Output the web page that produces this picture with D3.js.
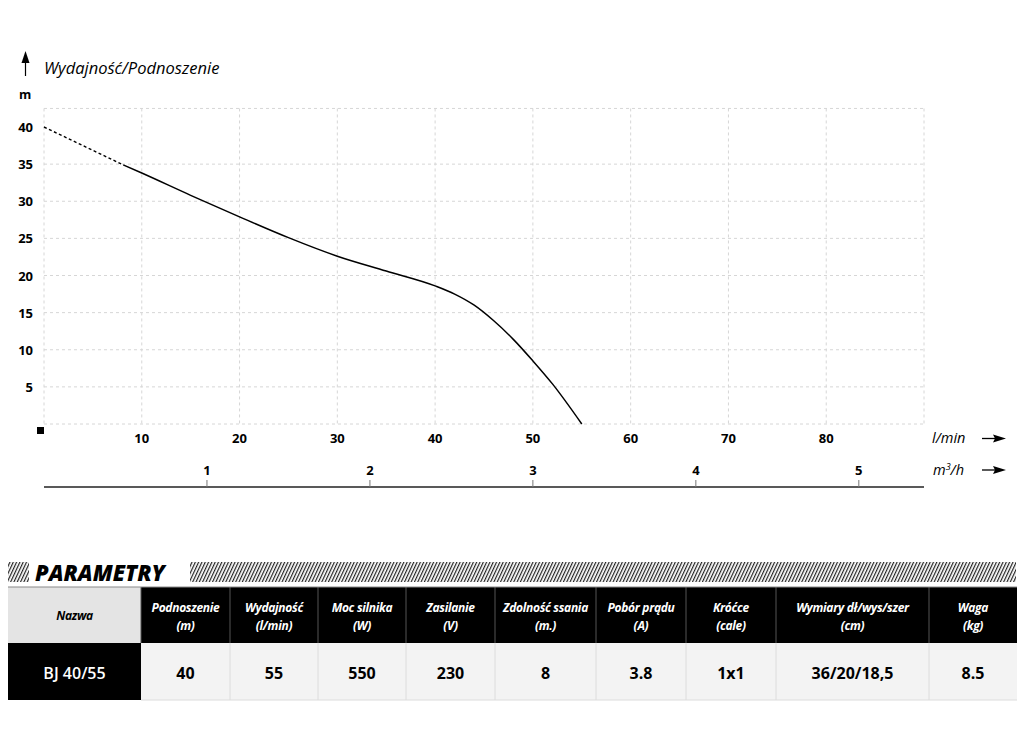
<!DOCTYPE html>
<html><head><meta charset="utf-8">
<script src="https://cdn.jsdelivr.net/npm/d3@7"></script>
<style>
html,body{margin:0;padding:0;background:#fff;}
svg{display:block;font-family:"Open Sans",sans-serif;}
</style></head>
<body><svg id="chart" width="1024" height="754"></svg>
<script>
// ---- data ----
const flowTicks = [10, 20, 30, 40, 50, 60, 70, 80];
const headTicks = [5, 10, 15, 20, 25, 30, 35, 40];
const headGrid = [0, 5, 10, 15, 20, 25, 30, 35, 42.5];
const flowGrid = [0, 10, 20, 30, 40, 50, 60, 70, 80, 90];
const m3Ticks = [1, 2, 3, 4, 5];
const dashedFlow = [0, 8.1];
const dashedHead = [40, 34.9];
const curveFlow = [8.1, 10, 15, 20, 25, 30, 35, 40, 42, 44, 46, 48, 50, 52, 55];
const curveHead = [34.9, 33.8, 30.8, 27.9, 25.1, 22.6, 20.6, 18.6, 17.5, 16.0, 13.9, 11.4, 8.5, 5.4, 0];
const colHeads = ["Nazwa", "Podnoszenie", "Wydajność", "Moc silnika", "Zasilanie", "Zdolność ssania", "Pobór prądu", "Króćce", "Wymiary dł/wys/szer", "Waga"];
const colUnits = ["", "(m)", "(l/min)", "(W)", "(V)", "(m.)", "(A)", "(cale)", "(cm)", "(kg)"];
const rowValues = ["BJ 40/55", "40", "55", "550", "230", "8", "3.8", "1x1", "36/20/18,5", "8.5"];
const colEdges = [8, 141, 230, 318, 406, 495, 596, 686, 776, 929, 1017];

const svg = d3.select("#chart");
const x = d3.scaleLinear().domain([0, 90]).range([44, 924]);
const y = d3.scaleLinear().domain([0, 40]).range([424, 127]);
const xm3 = d3.scaleLinear().domain([0, 5.4]).range([44, 44 + 5.4 * (1000 / 60) * (880 / 90)]);

// grid
const g = svg.append("g");
g.selectAll("line.h").data(headGrid).join("line")
  .attr("x1", x(0)).attr("x2", x(90)).attr("y1", d => y(d)).attr("y2", d => y(d))
  .attr("stroke", "#d6d6d6").attr("stroke-width", 1).attr("stroke-dasharray", "3,3");
g.selectAll("line.v").data(flowGrid).join("line")
  .attr("x1", d => x(d)).attr("x2", d => x(d)).attr("y1", y(42.5)).attr("y2", y(0))
  .attr("stroke", "#d6d6d6").attr("stroke-width", 1).attr("stroke-dasharray", "3,3");

// y labels
svg.selectAll("text.yl").data(headTicks).join("text")
  .attr("x", 33).attr("y", d => y(d) + 5).attr("text-anchor", "end")
  .attr("font-size", 13).attr("font-weight", "bold").text(d => d);
svg.append("text").attr("x", 19).attr("y", 99).attr("font-size", 12.5).attr("font-weight", "bold").text("m");

// title + up arrow
svg.append("line").attr("x1", 25.5).attr("x2", 25.5).attr("y1", 60).attr("y2", 76).attr("stroke", "#000").attr("stroke-width", 1.2);
svg.append("path").attr("d", "M25.5,51 L21.5,63 L29.5,63 Z").attr("fill", "#000");
svg.append("text").attr("x", 44).attr("y", 74).attr("font-size", 16.5).attr("font-style", "italic").text("Wydajność/Podnoszenie");

// origin square
svg.append("rect").attr("x", 37).attr("y", 427).attr("width", 7).attr("height", 7).attr("fill", "#000");

// x labels l/min
svg.selectAll("text.xl").data(flowTicks).join("text")
  .attr("x", d => x(d)).attr("y", 443).attr("text-anchor", "middle")
  .attr("font-size", 13).attr("font-weight", "bold").text(d => d);

// m3/h axis
svg.append("line").attr("x1", 44).attr("x2", 924).attr("y1", 487).attr("y2", 487).attr("stroke", "#222").attr("stroke-width", 1.5);
svg.selectAll("line.mt").data(m3Ticks).join("line")
  .attr("x1", d => xm3(d)).attr("x2", d => xm3(d)).attr("y1", 480).attr("y2", 487)
  .attr("stroke", "#777").attr("stroke-width", 1);
svg.selectAll("text.ml").data(m3Ticks).join("text")
  .attr("x", d => xm3(d)).attr("y", 475).attr("text-anchor", "middle")
  .attr("font-size", 13).attr("font-weight", "bold").text(d => d);

// unit labels + arrows
svg.append("text").attr("x", 932).attr("y", 443).attr("font-size", 14.5).attr("font-style", "italic").text("l/min");
const mh = svg.append("text").attr("x", 933).attr("y", 475).attr("font-size", 14.5).attr("font-style", "italic");
mh.append("tspan").text("m");
mh.append("tspan").attr("font-size", 9).attr("dy", -5).text("3");
mh.append("tspan").attr("dy", 5).text("/h");
[438.5, 470].forEach(yy => {
  svg.append("line").attr("x1", 982).attr("x2", 996).attr("y1", yy).attr("y2", yy).attr("stroke", "#000").attr("stroke-width", 1.3);
  svg.append("path").attr("d", `M1006,${yy} L993,${yy - 4} L995,${yy} L993,${yy + 4} Z`).attr("fill", "#000");
});

// curve
const line = d3.line().x(d => x(d[0])).y(d => y(d[1])).curve(d3.curveMonotoneX);
svg.append("path").datum(dashedFlow.map((f, i) => [f, dashedHead[i]])).attr("d", line)
  .attr("fill", "none").attr("stroke", "#000").attr("stroke-width", 1.4).attr("stroke-dasharray", "3,2.5");
svg.append("path").datum(curveFlow.map((f, i) => [f, curveHead[i]])).attr("d", line)
  .attr("fill", "none").attr("stroke", "#000").attr("stroke-width", 1.5);

// ---- PARAMETRY section ----
const defs = svg.append("defs");
const pat = defs.append("pattern").attr("id", "hatch").attr("patternUnits", "userSpaceOnUse")
  .attr("width", 3).attr("height", 3).attr("patternTransform", "rotate(25)");
pat.append("rect").attr("x", 0).attr("y", 0).attr("width", 1.2).attr("height", 3).attr("fill", "#222");
svg.append("rect").attr("x", 8).attr("y", 562).attr("width", 21).attr("height", 20).attr("fill", "url(#hatch)");
svg.append("rect").attr("x", 190).attr("y", 562).attr("width", 826).attr("height", 20).attr("fill", "url(#hatch)");
svg.append("text").attr("x", 35).attr("y", 581).attr("font-size", 22).attr("font-weight", 800)
  .attr("font-style", "italic").text("PARAMETRY");

// table
const tTop = 587, tMid = 643, tBot = 700;
const cols = colHeads.map((h, i) => ({h, u: colUnits[i], v: rowValues[i], x0: colEdges[i], x1: colEdges[i + 1]}));
const tg = svg.append("g");
tg.selectAll("rect.hd").data(cols).join("rect")
  .attr("x", d => d.x0).attr("y", tTop).attr("width", d => d.x1 - d.x0).attr("height", tMid - tTop)
  .attr("fill", (d, i) => i === 0 ? "#e4e4e4" : "#000");
tg.selectAll("rect.dv").data(cols).join("rect")
  .attr("x", d => d.x0).attr("y", tMid).attr("width", d => d.x1 - d.x0).attr("height", tBot - tMid)
  .attr("fill", (d, i) => i === 0 ? "#000" : "#f3f3f3");
tg.selectAll("line.sh").data(colEdges.slice(1, -1)).join("line")
  .attr("x1", d => d).attr("x2", d => d).attr("y1", tTop).attr("y2", tMid)
  .attr("stroke", "#555").attr("stroke-width", 1);
tg.selectAll("line.sd").data(colEdges.slice(2, -1)).join("line")
  .attr("x1", d => d).attr("x2", d => d).attr("y1", tMid).attr("y2", tBot)
  .attr("stroke", "#dcdcdc").attr("stroke-width", 1);
tg.append("line").attr("x1", 8).attr("x2", 1017).attr("y1", tTop).attr("y2", tTop).attr("stroke", "#888").attr("stroke-width", 1);
tg.append("line").attr("x1", 141).attr("x2", 1017).attr("y1", tBot).attr("y2", tBot).attr("stroke", "#dcdcdc").attr("stroke-width", 1);

tg.selectAll("text.h1").data(cols).join("text")
  .attr("x", d => (d.x0 + d.x1) / 2).attr("y", (d, i) => i === 0 ? 620 : 612)
  .attr("text-anchor", "middle").attr("font-size", 12).attr("font-weight", "bold").attr("font-style", "italic")
  .attr("letter-spacing", -0.3)
  .attr("fill", (d, i) => i === 0 ? "#000" : "#fff").text(d => d.h);
tg.selectAll("text.h2").data(cols.filter(d => d.u)).join("text")
  .attr("x", d => (d.x0 + d.x1) / 2).attr("y", 630)
  .attr("text-anchor", "middle").attr("font-size", 12).attr("font-weight", "bold").attr("font-style", "italic")
  .attr("letter-spacing", -0.3)
  .attr("fill", "#fff").text(d => d.u);
tg.selectAll("text.v").data(cols).join("text")
  .attr("x", d => (d.x0 + d.x1) / 2).attr("y", 679)
  .attr("text-anchor", "middle").attr("font-size", 16)
  .attr("font-weight", (d, i) => i === 0 ? 600 : "bold")
  .attr("fill", (d, i) => i === 0 ? "#fff" : "#000").text(d => d.v);
</script></body></html>
